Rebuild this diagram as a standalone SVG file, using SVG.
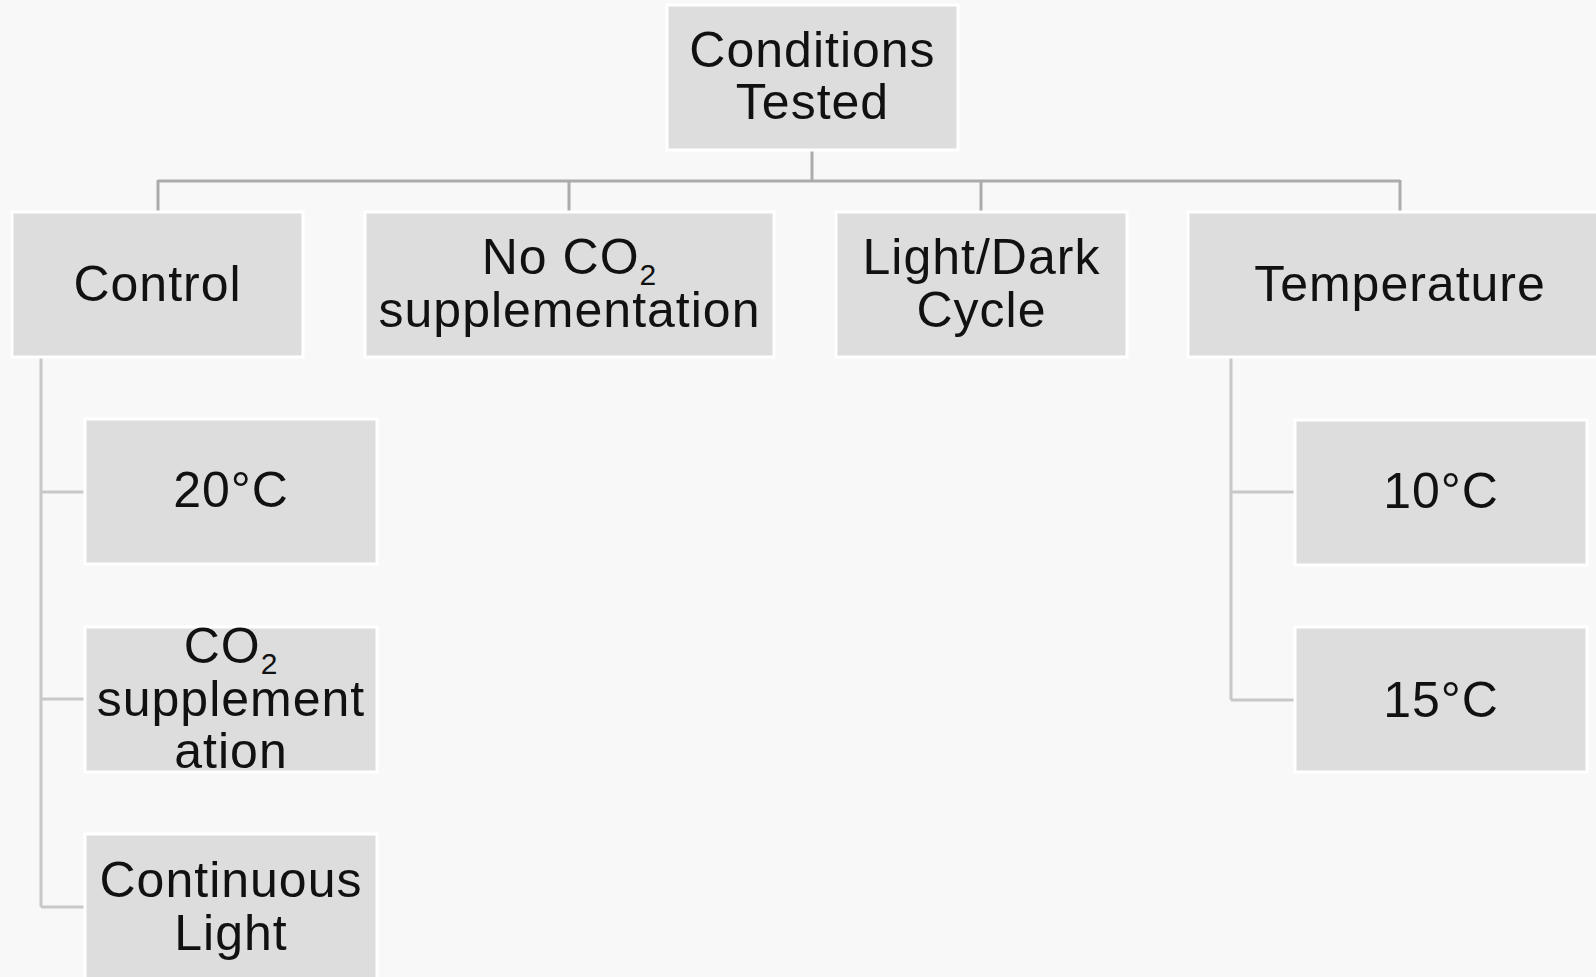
<svg xmlns="http://www.w3.org/2000/svg" width="1596" height="977" viewBox="0 0 1596 977">
<style>
.bg{fill:#f8f8f8}
.box{fill:#dddddd;stroke:#ffffff;stroke-width:3}
.t{font-family:"Liberation Sans",Arial,sans-serif;font-size:50px;letter-spacing:1px;fill:#111111;text-anchor:middle}
.sub{font-size:30px}
.main{stroke:#ababab;stroke-width:3;fill:none}
.child{stroke:#c8c8c8;stroke-width:3;fill:none}
</style>
<rect class="bg" x="0" y="0" width="1596" height="977"/>
<g id="connectors">
<path class="main" d="M812 150V181M158 181H1400M158 180V212M569 180V212M981 180V212M1400 180V212"/>
<path class="child" d="M41 357V907M41 492H85M41 699H85M41 907H85"/>
<path class="child" d="M1231 357V700M1231 492H1295M1231 700H1295"/>
</g>
<g id="n-conditions">
<rect class="box" x="667" y="5" width="291" height="145"/>
<text class="t" x="812.5" y="67">Conditions</text>
<text class="t" x="812.5" y="119">Tested</text>
</g>
<g id="n-control">
<rect class="box" x="12" y="212" width="291" height="145"/>
<text class="t" x="157.5" y="301">Control</text>
</g>
<g id="n-noco2">
<rect class="box" x="365" y="212" width="409" height="145"/>
<text class="t" x="569.5" y="274">No CO<tspan class="sub" dy="11">2</tspan></text>
<text class="t" x="569.5" y="327">supplementation</text>
</g>
<g id="n-lightdark">
<rect class="box" x="836" y="212" width="291" height="145"/>
<text class="t" x="981.5" y="274">Light/Dark</text>
<text class="t" x="981.5" y="327">Cycle</text>
</g>
<g id="n-temperature">
<rect class="box" x="1188" y="212" width="424" height="145"/>
<text class="t" x="1400" y="301">Temperature</text>
</g>
<g id="n-20c">
<rect class="box" x="85" y="419" width="292" height="145"/>
<text class="t" x="231" y="507">20°C</text>
</g>
<g id="n-co2supp">
<rect class="box" x="85" y="627" width="292" height="145"/>
<text class="t" x="231" y="663">CO<tspan class="sub" dy="11">2</tspan></text>
<text class="t" x="231" y="716">supplement</text>
<text class="t" x="231" y="768">ation</text>
</g>
<g id="n-continuous">
<rect class="box" x="85" y="834" width="292" height="145"/>
<text class="t" x="231" y="897">Continuous</text>
<text class="t" x="231" y="950">Light</text>
</g>
<g id="n-10c">
<rect class="box" x="1295" y="420" width="292" height="145"/>
<text class="t" x="1441" y="508">10°C</text>
</g>
<g id="n-15c">
<rect class="box" x="1295" y="627" width="292" height="145"/>
<text class="t" x="1441" y="717">15°C</text>
</g>
</svg>
